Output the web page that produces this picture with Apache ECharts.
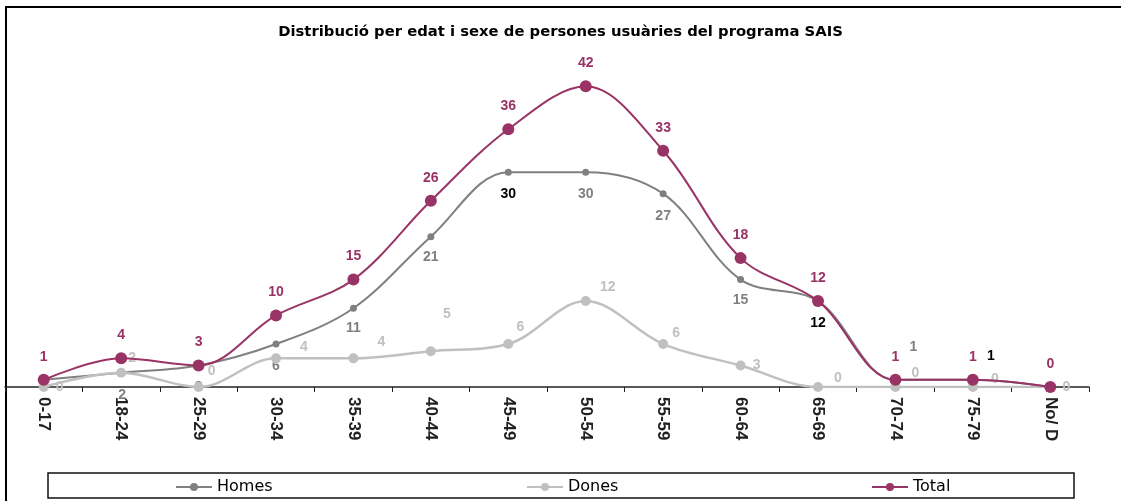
<!DOCTYPE html>
<html>
<head>
<meta charset="utf-8">
<script src="https://cdn.jsdelivr.net/npm/echarts@6/dist/echarts.min.js"></script>
<style>
html,body{margin:0;padding:0;background:#fff;}
#chart{width:1121px;height:501px;}
</style>
</head>
<body>
<div id="chart"></div>
<script>
// ---- Data ----
const titleText = 'Distribució per edat i sexe de persones usuàries del programa SAIS';
const categories = ['0-17','18-24','25-29','30-34','35-39','40-44','45-49','50-54','55-59','60-64','65-69','70-74','75-79','No/ D'];
const homes = [1, 2, 3, 6, 11, 21, 30, 30, 27, 15, 12, 1, 1, 0];
const dones = [0, 2, 0, 4, 4, 5, 6, 12, 6, 3, 0, 0, 0, 0];
const total = [1, 4, 3, 10, 15, 26, 36, 42, 33, 18, 12, 1, 1, 0];

// ---- Label placement (styling only) ----
const homesLabelOffset = [null,[1,22],[0,22],[0,22],[0,20],[0,21],[0,22],[0,22],[0,22],[0,21],[0,22],[18,-33],[18,-24],null];
const homesLabelColor = ['#808080','#808080','#808080','#808080','#808080','#808080','#000000','#808080','#808080','#808080','#000000','#808080','#000000','#808080'];
const donesLabelOffset = [[16,0],[11,-15],[13,-16],[28,-11],[28,-16],[16,-37],[12,-17],[22,-14],[13,-11],[16,0],[20,-9],[20,-14],[22,-8],[16,0]];

const labelFont = {fontFamily:'Liberation Sans, Arial, sans-serif', fontWeight:'bold', fontSize:14};

function buildData(values, offsets, colors, baseColor){
  return values.map((v,i)=>{
    const off = offsets ? offsets[i] : [0,-23];
    if (off === null) return {value:v, label:{show:false}};
    return {
      value: v,
      label: Object.assign({show:true, position:'inside', offset:off,
        color: colors ? colors[i] : baseColor}, labelFont)
    };
  });
}

const chart = echarts.init(document.getElementById('chart'), null, {renderer:'canvas'});
const legendText = {fontFamily:'DejaVu Sans, sans-serif', fontSize:16, color:'#000'};
const legendBase = {top:479, padding:0, itemWidth:36, itemHeight:10, itemGap:4, textStyle:legendText};
chart.setOption({
  animation:false,
  backgroundColor:'#ffffff',
  title:{text:titleText, left:'center', top:20,
    textStyle:{fontFamily:'DejaVu Sans, Verdana, sans-serif', fontWeight:'bold', fontSize:14.8, color:'#000'}},
  grid:{left:5, right:32, top:29, bottom:114, containLabel:false},
  xAxis:{type:'category', data:categories, boundaryGap:true,
    axisLine:{lineStyle:{color:'#222', width:1.5}},
    axisTick:{show:true, inside:false, length:5, lineStyle:{color:'#222'}},
    axisLabel:{rotate:-90, margin:10, color:'#222', fontFamily:'Liberation Sans, Arial, sans-serif', fontWeight:'bold', fontSize:17, interval:0}
  },
  yAxis:{type:'value', min:0, max:50, show:false, splitLine:{show:false}},
  legend:[
    Object.assign({data:['Homes'], left:175}, legendBase),
    Object.assign({data:['Dones'], left:526}, legendBase),
    Object.assign({data:['Total'], left:871}, legendBase)
  ],
  graphic:[
    {type:'polyline', shape:{points:[[6,501],[6,7],[1121,7]]}, style:{stroke:'#000', lineWidth:2, fill:null}, silent:true},
    {type:'rect', shape:{x:48, y:473, width:1026, height:25}, style:{stroke:'#111', lineWidth:1.5, fill:null}, silent:true, z:-1}
  ],
  series:[
    {name:'Homes', type:'line', smooth:0.35, data:buildData(homes, homesLabelOffset, homesLabelColor),
      symbol:'circle', symbolSize:7, itemStyle:{color:'#808080'}, lineStyle:{color:'#808080', width:2}, z:3},
    {name:'Dones', type:'line', smooth:0.35, data:buildData(dones, donesLabelOffset, null, '#C0C0C0'),
      symbol:'circle', symbolSize:10, itemStyle:{color:'#C0C0C0'}, lineStyle:{color:'#C0C0C0', width:2.5}, z:4},
    {name:'Total', type:'line', smooth:0.35, data:buildData(total, null, null, '#993366'),
      symbol:'circle', symbolSize:12, itemStyle:{color:'#993366'}, lineStyle:{color:'#993366', width:2}, z:5}
  ]
});
</script>
</body>
</html>
